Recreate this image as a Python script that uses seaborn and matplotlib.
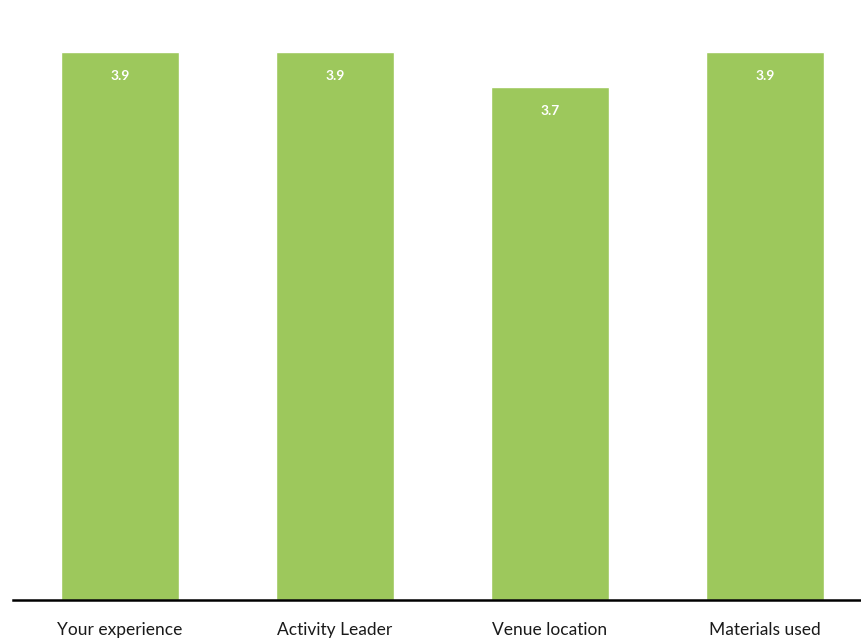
import matplotlib
matplotlib.use("Agg")
import matplotlib.pyplot as plt
import seaborn as sns
import pandas as pd

categories = ["Your experience", "Activity Leader", "Venue location", "Materials used"]
scores = [3.93, 3.93, 3.68, 3.93]

df = pd.DataFrame({"category": categories, "score": scores})

sns.set_theme(style="white")
plt.rcParams["font.family"] = ["Lato", "DejaVu Sans"]

fig = plt.figure(figsize=(8.61, 6.44), dpi=100)
ax = fig.add_axes([12.5 / 861, 44 / 644, 860 / 861, 600 / 644])

sns.barplot(data=df, x="category", y="score", color="#9DC85C", saturation=1,
            width=0.545, ax=ax)

ax.set_ylim(0, 4.305)
ax.set_xlim(-0.5, 3.5)
ax.set_xlabel("")
ax.set_ylabel("")
ax.set_yticks([])
for side in ["left", "right", "top"]:
    ax.spines[side].set_visible(False)
ax.spines["bottom"].set_color("black")
ax.spines["bottom"].set_linewidth(1.8)
ax.tick_params(axis="x", length=0, pad=16, labelsize=12.5, labelcolor="#1a1a1a")

for i, v in enumerate(scores):
    ax.annotate(f"{v:.1f}", (i, v), xytext=(0, -17), textcoords="offset points",
                ha="center", va="center", color="white", fontsize=10,
                fontweight="bold")

fig.savefig("out.png", dpi=100)
